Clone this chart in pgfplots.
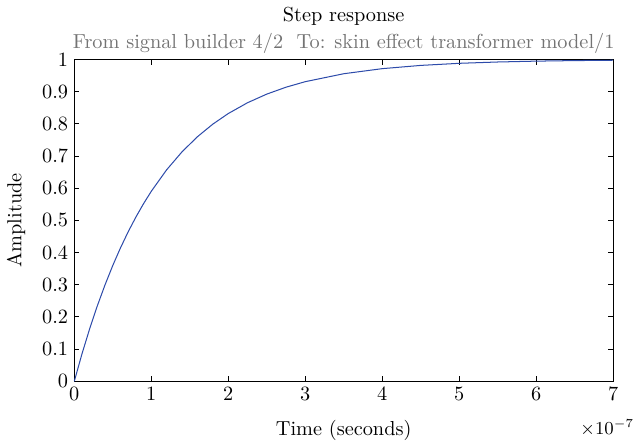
\documentclass[border=0pt]{standalone}
\usepackage{pgfplots}
\pgfplotsset{compat=1.18}
\definecolor{linebl}{RGB}{45,75,170}
\begin{document}
\begin{tikzpicture}
\begin{axis}[
  scale only axis, width=265.5pt, height=158.5pt,
  xmin=0, xmax=7, ymin=0, ymax=1,
  xtick={0,1,...,7}, ytick={0,0.1,0.2,0.3,0.4,0.5,0.6,0.7,0.8,0.9,1},
  yticklabels={0,0.1,0.2,0.3,0.4,0.5,0.6,0.7,0.8,0.9,1},
  tick align=inside, tick pos=both, xticklabel pos=left, yticklabel pos=left,
  major tick length=2.5pt,
  axis line style={line width=0.5pt}, every tick/.style={black, line width=0.5pt},
  xticklabel style={yshift=0.5pt}, yticklabel style={xshift=0.5pt},
  xlabel={Time (seconds)}, ylabel={Amplitude},
  xlabel style={yshift=-3pt}, ylabel style={yshift=1.5pt},
  clip=false,
]
\addplot[linebl, line width=0.5pt] coordinates {
(0,0) (0.1,0.0854) (0.2,0.1635) (0.3,0.2350) (0.4,0.3003) (0.5,0.3601)
(0.6,0.4147) (0.7,0.4647) (0.8,0.5105) (0.9,0.5523) (1.0,0.5905)
(1.2,0.6575) (1.4,0.7135) (1.6,0.7603) (1.8,0.7995) (2.0,0.8323)
(2.25,0.8659) (2.5,0.8927) (2.75,0.9142) (3.0,0.9314) (3.5,0.9561)
(4.0,0.9719) (4.5,0.9820) (5.0,0.9885) (5.5,0.9926) (6.0,0.9953)
(6.5,0.9970) (7.0,0.9981)};
\node[anchor=base] at (rel axis cs:0.5,1) [yshift=19pt] {Step response};
\node[anchor=base, text=black!55] at (rel axis cs:0.5,1) [yshift=5.5pt] {From signal builder 4/2\ \ To: skin effect transformer model/1};
\node[anchor=east, inner sep=0pt, font=\small] at (rel axis cs:1,0) [xshift=10.5pt, yshift=-23pt] {$\times10^{-7}$};
\end{axis}
\end{tikzpicture}
\end{document}
